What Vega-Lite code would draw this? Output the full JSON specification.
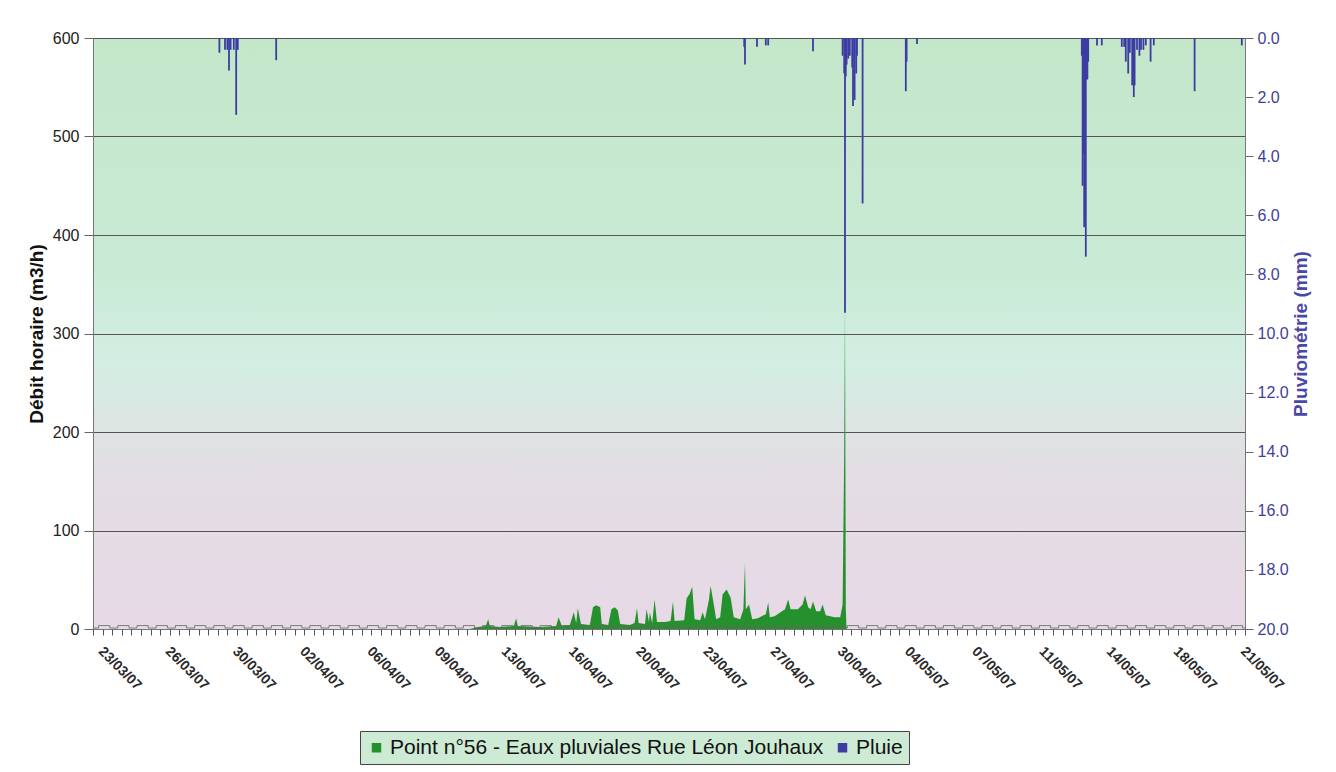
{
"$schema": "https://vega.github.io/schema/vega-lite/v6.json",
"width": 1152, "height": 591,
"autosize": {"type": "none"},
"padding": {"left": 93, "top": 38, "right": 91, "bottom": 143},
"background": "#ffffff",
"title": {"text": "Jouhaux", "anchor": "start", "frame": "group", "fontSize": 24, "fontWeight": "bold", "color": "#111", "offset": 18, "baseline": "alphabetic", "dx": -14, "font": "Liberation Sans"},
"view": {"fill": {"gradient": "linear", "x1": 0, "y1": 0, "x2": 0, "y2": 1, "stops": [{"offset": 0, "color": "#c4e6c9"}, {"offset": 0.4, "color": "#c9ebd6"}, {"offset": 0.55, "color": "#d3eee3"}, {"offset": 0.65, "color": "#dde5e3"}, {"offset": 0.74, "color": "#e3dde4"}, {"offset": 1, "color": "#e7d9e6"}]}, "stroke": "#888"},
"config": {"font": "Liberation Sans"},
"datasets": {
"flow": [
{"t":"2007-04-11T15:00","v":0},{"t":"2007-04-12T01:00","v":2},{"t":"2007-04-12T11:00","v":3},{"t":"2007-04-12T14:00","v":10},{"t":"2007-04-12T16:00","v":3},{"t":"2007-04-13T05:00","v":2},{"t":"2007-04-13T22:00","v":3},{"t":"2007-04-14T01:00","v":11},{"t":"2007-04-14T03:00","v":3},{"t":"2007-04-15T07:00","v":2},{"t":"2007-04-16T03:00","v":3},{"t":"2007-04-16T06:00","v":12},{"t":"2007-04-16T10:00","v":3},{"t":"2007-04-16T20:00","v":4},{"t":"2007-04-17T01:00","v":17},{"t":"2007-04-17T04:00","v":6},{"t":"2007-04-17T06:00","v":21},{"t":"2007-04-17T10:00","v":5},{"t":"2007-04-17T21:00","v":4},{"t":"2007-04-18T01:00","v":22},{"t":"2007-04-18T05:00","v":24},{"t":"2007-04-18T10:00","v":22},{"t":"2007-04-18T12:00","v":5},{"t":"2007-04-18T20:00","v":4},{"t":"2007-04-19T00:00","v":20},{"t":"2007-04-19T04:00","v":22},{"t":"2007-04-19T08:00","v":19},{"t":"2007-04-19T11:00","v":5},{"t":"2007-04-19T23:00","v":4},{"t":"2007-04-20T05:00","v":6},{"t":"2007-04-20T08:00","v":21},{"t":"2007-04-20T10:00","v":6},{"t":"2007-04-20T18:00","v":5},{"t":"2007-04-20T20:00","v":20},{"t":"2007-04-20T23:00","v":7},{"t":"2007-04-21T00:00","v":17},{"t":"2007-04-21T03:00","v":6},{"t":"2007-04-21T06:00","v":30},{"t":"2007-04-21T09:00","v":7},{"t":"2007-04-21T19:00","v":7},{"t":"2007-04-22T02:00","v":8},{"t":"2007-04-22T05:00","v":28},{"t":"2007-04-22T07:00","v":8},{"t":"2007-04-22T19:00","v":9},{"t":"2007-04-22T22:00","v":31},{"t":"2007-04-23T02:00","v":36},{"t":"2007-04-23T05:00","v":43},{"t":"2007-04-23T08:00","v":10},{"t":"2007-04-23T15:00","v":9},{"t":"2007-04-23T18:00","v":17},{"t":"2007-04-23T21:00","v":10},{"t":"2007-04-24T02:00","v":30},{"t":"2007-04-24T04:00","v":44},{"t":"2007-04-24T08:00","v":25},{"t":"2007-04-24T11:00","v":10},{"t":"2007-04-24T16:00","v":12},{"t":"2007-04-24T19:00","v":35},{"t":"2007-04-25T00:00","v":40},{"t":"2007-04-25T05:00","v":32},{"t":"2007-04-25T09:00","v":12},{"t":"2007-04-25T17:00","v":10},{"t":"2007-04-25T21:00","v":20},{"t":"2007-04-25T23:00","v":67},{"t":"2007-04-26T00:00","v":20},{"t":"2007-04-26T04:00","v":25},{"t":"2007-04-26T08:00","v":10},{"t":"2007-04-26T15:00","v":11},{"t":"2007-04-27T01:00","v":15},{"t":"2007-04-27T04:00","v":27},{"t":"2007-04-27T06:00","v":12},{"t":"2007-04-27T12:00","v":13},{"t":"2007-04-28T01:00","v":20},{"t":"2007-04-28T05:00","v":30},{"t":"2007-04-28T08:00","v":20},{"t":"2007-04-28T17:00","v":20},{"t":"2007-04-28T23:00","v":25},{"t":"2007-04-29T02:00","v":34},{"t":"2007-04-29T06:00","v":22},{"t":"2007-04-29T09:00","v":20},{"t":"2007-04-29T12:00","v":28},{"t":"2007-04-29T16:00","v":18},{"t":"2007-04-29T21:00","v":18},{"t":"2007-04-30T00:00","v":25},{"t":"2007-04-30T04:00","v":14},{"t":"2007-04-30T15:00","v":12},{"t":"2007-04-30T22:00","v":12},{"t":"2007-05-01T01:00","v":25},{"t":"2007-05-01T03:00","v":177},{"t":"2007-05-01T04:00","v":330},{"t":"2007-05-01T05:00","v":20},{"t":"2007-05-01T06:00","v":0}
],
"rain": [
{"t":"2007-03-29T14:00","mm":0.5},{"t":"2007-03-29T21:00","mm":0.4},{"t":"2007-03-30T00:00","mm":0.4},{"t":"2007-03-30T02:00","mm":1.1},{"t":"2007-03-30T04:00","mm":0.4},{"t":"2007-03-30T08:00","mm":0.4},{"t":"2007-03-30T11:00","mm":2.6},{"t":"2007-03-30T13:00","mm":0.4},{"t":"2007-04-01T13:00","mm":0.75},{"t":"2007-04-25T22:00","mm":0.3},{"t":"2007-04-25T23:00","mm":0.9},{"t":"2007-04-26T14:00","mm":0.3},{"t":"2007-04-27T01:00","mm":0.25},{"t":"2007-04-27T04:00","mm":0.25},{"t":"2007-04-29T12:00","mm":0.45},{"t":"2007-05-01T01:00","mm":0.6},{"t":"2007-05-01T03:00","mm":1.2},{"t":"2007-05-01T04:00","mm":9.3},{"t":"2007-05-01T05:00","mm":1.3},{"t":"2007-05-01T06:00","mm":0.9},{"t":"2007-05-01T08:00","mm":0.7},{"t":"2007-05-01T10:00","mm":0.6},{"t":"2007-05-01T13:00","mm":1.0},{"t":"2007-05-01T14:00","mm":2.3},{"t":"2007-05-01T16:00","mm":2.1},{"t":"2007-05-01T18:00","mm":1.2},{"t":"2007-05-01T19:00","mm":0.6},{"t":"2007-05-02T02:00","mm":5.6},{"t":"2007-05-04T08:00","mm":1.8},{"t":"2007-05-04T09:00","mm":0.8},{"t":"2007-05-04T22:00","mm":0.2},{"t":"2007-05-13T12:00","mm":0.6},{"t":"2007-05-13T13:00","mm":5.0},{"t":"2007-05-13T14:00","mm":3.9},{"t":"2007-05-13T15:00","mm":6.4},{"t":"2007-05-13T16:00","mm":6.4},{"t":"2007-05-13T17:00","mm":7.4},{"t":"2007-05-13T18:00","mm":1.4},{"t":"2007-05-13T19:00","mm":1.4},{"t":"2007-05-13T20:00","mm":0.8},{"t":"2007-05-14T07:00","mm":0.25},{"t":"2007-05-14T13:00","mm":0.25},{"t":"2007-05-15T14:00","mm":0.3},{"t":"2007-05-15T17:00","mm":0.3},{"t":"2007-05-15T19:00","mm":0.8},{"t":"2007-05-15T22:00","mm":1.2},{"t":"2007-05-16T00:00","mm":0.5},{"t":"2007-05-16T03:00","mm":1.6},{"t":"2007-05-16T05:00","mm":2.0},{"t":"2007-05-16T06:00","mm":1.6},{"t":"2007-05-16T09:00","mm":0.4},{"t":"2007-05-16T12:00","mm":0.6},{"t":"2007-05-16T14:00","mm":0.4},{"t":"2007-05-16T17:00","mm":0.4},{"t":"2007-05-16T20:00","mm":0.25},{"t":"2007-05-17T02:00","mm":0.8},{"t":"2007-05-17T06:00","mm":0.25},{"t":"2007-05-19T09:00","mm":1.8},{"t":"2007-05-21T20:00","mm":0.25}
],
"base": [
{"t":"2007-03-23T00:00","v":1},
{"t":"2007-03-23T07:00","v":3.5},{"t":"2007-03-23T21:00","v":1},{"t":"2007-03-24T07:00","v":3.5},{"t":"2007-03-24T21:00","v":1},{"t":"2007-03-25T07:00","v":3.5},{"t":"2007-03-25T21:00","v":1},{"t":"2007-03-26T07:00","v":3.5},{"t":"2007-03-26T21:00","v":1},{"t":"2007-03-27T07:00","v":3.5},{"t":"2007-03-27T21:00","v":1},{"t":"2007-03-28T07:00","v":3.5},{"t":"2007-03-28T21:00","v":1},{"t":"2007-03-29T07:00","v":3.5},{"t":"2007-03-29T21:00","v":1},{"t":"2007-03-30T07:00","v":3.5},{"t":"2007-03-30T21:00","v":1},{"t":"2007-03-31T07:00","v":3.5},{"t":"2007-03-31T21:00","v":1},
{"t":"2007-04-01T07:00","v":3.5},{"t":"2007-04-01T21:00","v":1},{"t":"2007-04-02T07:00","v":3.5},{"t":"2007-04-02T21:00","v":1},{"t":"2007-04-03T07:00","v":3.5},{"t":"2007-04-03T21:00","v":1},{"t":"2007-04-04T07:00","v":3.5},{"t":"2007-04-04T21:00","v":1},{"t":"2007-04-05T07:00","v":3.5},{"t":"2007-04-05T21:00","v":1},{"t":"2007-04-06T07:00","v":3.5},{"t":"2007-04-06T21:00","v":1},{"t":"2007-04-07T07:00","v":3.5},{"t":"2007-04-07T21:00","v":1},{"t":"2007-04-08T07:00","v":3.5},{"t":"2007-04-08T21:00","v":1},{"t":"2007-04-09T07:00","v":3.5},{"t":"2007-04-09T21:00","v":1},{"t":"2007-04-10T07:00","v":3.5},{"t":"2007-04-10T21:00","v":1},
{"t":"2007-04-11T07:00","v":3.5},{"t":"2007-04-11T21:00","v":1},{"t":"2007-04-12T07:00","v":3.5},{"t":"2007-04-12T21:00","v":1},{"t":"2007-04-13T07:00","v":3.5},{"t":"2007-04-13T21:00","v":1},{"t":"2007-04-14T07:00","v":3.5},{"t":"2007-04-14T21:00","v":1},{"t":"2007-04-15T07:00","v":3.5},{"t":"2007-04-15T21:00","v":1},{"t":"2007-04-16T07:00","v":3.5},{"t":"2007-04-16T21:00","v":1},{"t":"2007-04-17T07:00","v":3.5},{"t":"2007-04-17T21:00","v":1},{"t":"2007-04-18T07:00","v":3.5},{"t":"2007-04-18T21:00","v":1},{"t":"2007-04-19T07:00","v":3.5},{"t":"2007-04-19T21:00","v":1},{"t":"2007-04-20T07:00","v":3.5},{"t":"2007-04-20T21:00","v":1},
{"t":"2007-04-21T07:00","v":3.5},{"t":"2007-04-21T21:00","v":1},{"t":"2007-04-22T07:00","v":3.5},{"t":"2007-04-22T21:00","v":1},{"t":"2007-04-23T07:00","v":3.5},{"t":"2007-04-23T21:00","v":1},{"t":"2007-04-24T07:00","v":3.5},{"t":"2007-04-24T21:00","v":1},{"t":"2007-04-25T07:00","v":3.5},{"t":"2007-04-25T21:00","v":1},{"t":"2007-04-26T07:00","v":3.5},{"t":"2007-04-26T21:00","v":1},{"t":"2007-04-27T07:00","v":3.5},{"t":"2007-04-27T21:00","v":1},{"t":"2007-04-28T07:00","v":3.5},{"t":"2007-04-28T21:00","v":1},{"t":"2007-04-29T07:00","v":3.5},{"t":"2007-04-29T21:00","v":1},{"t":"2007-04-30T07:00","v":3.5},{"t":"2007-04-30T21:00","v":1},
{"t":"2007-05-01T07:00","v":3.5},{"t":"2007-05-01T21:00","v":1},{"t":"2007-05-02T07:00","v":3.5},{"t":"2007-05-02T21:00","v":1},{"t":"2007-05-03T07:00","v":3.5},{"t":"2007-05-03T21:00","v":1},{"t":"2007-05-04T07:00","v":3.5},{"t":"2007-05-04T21:00","v":1},{"t":"2007-05-05T07:00","v":3.5},{"t":"2007-05-05T21:00","v":1},{"t":"2007-05-06T07:00","v":3.5},{"t":"2007-05-06T21:00","v":1},{"t":"2007-05-07T07:00","v":3.5},{"t":"2007-05-07T21:00","v":1},{"t":"2007-05-08T07:00","v":3.5},{"t":"2007-05-08T21:00","v":1},{"t":"2007-05-09T07:00","v":3.5},{"t":"2007-05-09T21:00","v":1},{"t":"2007-05-10T07:00","v":3.5},{"t":"2007-05-10T21:00","v":1},
{"t":"2007-05-11T07:00","v":3.5},{"t":"2007-05-11T21:00","v":1},{"t":"2007-05-12T07:00","v":3.5},{"t":"2007-05-12T21:00","v":1},{"t":"2007-05-13T07:00","v":3.5},{"t":"2007-05-13T21:00","v":1},{"t":"2007-05-14T07:00","v":3.5},{"t":"2007-05-14T21:00","v":1},{"t":"2007-05-15T07:00","v":3.5},{"t":"2007-05-15T21:00","v":1},{"t":"2007-05-16T07:00","v":3.5},{"t":"2007-05-16T21:00","v":1},{"t":"2007-05-17T07:00","v":3.5},{"t":"2007-05-17T21:00","v":1},{"t":"2007-05-18T07:00","v":3.5},{"t":"2007-05-18T21:00","v":1},{"t":"2007-05-19T07:00","v":3.5},{"t":"2007-05-19T21:00","v":1},{"t":"2007-05-20T07:00","v":3.5},{"t":"2007-05-20T21:00","v":1},{"t":"2007-05-21T07:00","v":3.5},{"t":"2007-05-21T21:00","v":1},
{"t":"2007-05-22T00:00","v":1}
]
},
"layer": [
{
"data": {"name": "flow"},
"mark": {"type": "area", "opacity": 1, "color": "#24912d"},
"encoding": {
"x": {"field": "t", "type": "temporal",
 "scale": {"domain": [{"year": 2007, "month": 3, "date": 23}, {"year": 2007, "month": 5, "date": 22}], "nice": false},
 "axis": {"orient": "bottom", "title": null, "format": "%d/%m/%y", "labelAngle": 45, "labelAlign": "left", "labelBaseline": "middle", "labelFontSize": 14, "labelFontWeight": "bold", "labelColor": "#2a2a2a", "labelPadding": 20, "labelOffset": 7, "labelOverlap": false, "labelFlush": false, "ticks": false, "grid": false, "domainColor": "#777",
  "values": [{"year":2007,"month":3,"date":23,"hours":0},{"year":2007,"month":3,"date":26,"hours":12},{"year":2007,"month":3,"date":30,"hours":0},{"year":2007,"month":4,"date":2,"hours":12},{"year":2007,"month":4,"date":6,"hours":0},{"year":2007,"month":4,"date":9,"hours":12},{"year":2007,"month":4,"date":13,"hours":0},{"year":2007,"month":4,"date":16,"hours":12},{"year":2007,"month":4,"date":20,"hours":0},{"year":2007,"month":4,"date":23,"hours":12},{"year":2007,"month":4,"date":27,"hours":0},{"year":2007,"month":4,"date":30,"hours":12},{"year":2007,"month":5,"date":4,"hours":0},{"year":2007,"month":5,"date":7,"hours":12},{"year":2007,"month":5,"date":11,"hours":0},{"year":2007,"month":5,"date":14,"hours":12},{"year":2007,"month":5,"date":18,"hours":0},{"year":2007,"month":5,"date":21,"hours":12}]}},
"y": {"field": "v", "type": "quantitative", "scale": {"domain": [0, 600], "nice": false},
 "axis": {"title": "Débit horaire (m3/h)", "values": [0,100,200,300,400,500,600], "labelFontSize": 16, "labelColor": "#222", "titleFontSize": 19, "titleFontWeight": "bold", "titleColor": "#111", "titlePadding": 6, "grid": true, "gridColor": "#555", "gridOpacity": 1, "gridWidth": 1, "tickSize": 9, "tickColor": "#666", "domainColor": "#777", "labelPadding": 5}},
"color": {"datum": "Point n°56 - Eaux pluviales Rue Léon Jouhaux", "type": "nominal",
 "scale": {"domain": ["Point n°56 - Eaux pluviales Rue Léon Jouhaux", "Pluie"], "range": ["#24912d", "#3c3ca2"]},
 "legend": {"orient": "none", "legendX": 267, "legendY": 693, "direction": "horizontal", "title": null, "symbolType": "square", "symbolSize": 90, "labelFontSize": 21, "labelColor": "#111", "fillColor": "#cdebd4", "strokeColor": "#444", "padding": 6, "columnPadding": 8, "labelOffset": 3, "labelLimit": 0, "symbolStrokeWidth": 0}}
}
},
{
"data": {"name": "base"},
"mark": {"type": "line", "interpolate": "step-after", "color": "#666", "strokeWidth": 0.8},
"encoding": {
"x": {"field": "t", "type": "temporal", "scale": {"domain": [{"year": 2007, "month": 3, "date": 23}, {"year": 2007, "month": 5, "date": 22}], "nice": false}, "axis": null},
"y": {"field": "v", "type": "quantitative", "scale": {"domain": [0, 600], "nice": false}, "axis": null}
}
},
{
"data": {"name": "rain"},
"mark": {"type": "rule", "strokeWidth": 1.8},
"encoding": {
"x": {"field": "t", "type": "temporal", "scale": {"domain": [{"year": 2007, "month": 3, "date": 23}, {"year": 2007, "month": 5, "date": 22}], "nice": false},
 "axis": {"orient": "bottom", "title": null, "tickCount": 120, "labels": false, "domain": false, "grid": false, "ticks": true, "tickSize": 6, "tickColor": "#555"}},
"y": {"field": "mm", "type": "quantitative", "scale": {"domain": [0, 20], "reverse": true, "nice": false},
 "axis": {"orient": "right", "title": "Pluviométrie (mm)", "values": [0,2,4,6,8,10,12,14,16,18,20], "format": ".1f", "labelFontSize": 16, "labelColor": "#40409a", "titleColor": "#4848a8", "titleFontSize": 19, "titleFontWeight": "bold", "titleAngle": -90, "titlePadding": 22, "grid": false, "tickSize": 8, "tickColor": "#666", "domainColor": "#777", "labelPadding": 4}},
"y2": {"datum": 0},
"color": {"datum": "Pluie", "type": "nominal"}
}
}
],
"resolve": {"scale": {"y": "independent"}, "axis": {"x": "independent"}}
}
